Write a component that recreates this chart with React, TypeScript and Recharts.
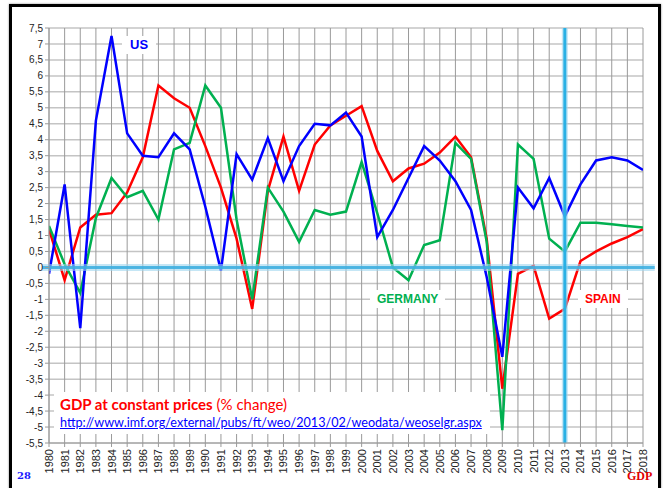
import React from "react";
import {
  LineChart,
  Line,
  XAxis,
  YAxis,
  CartesianGrid,
  ReferenceLine,
} from "recharts";

// años y series (crecimiento PIB %, FMI WEO oct-2013)
const years = [
  1980, 1981, 1982, 1983, 1984, 1985, 1986, 1987, 1988, 1989,
  1990, 1991, 1992, 1993, 1994, 1995, 1996, 1997, 1998, 1999,
  2000, 2001, 2002, 2003, 2004, 2005, 2006, 2007, 2008, 2009,
  2010, 2011, 2012, 2013, 2014, 2015, 2016, 2017, 2018,
];

const us = [
  -0.2, 2.6, -1.9, 4.6, 7.25, 4.2, 3.5, 3.45, 4.2, 3.7,
  1.9, -0.1, 3.55, 2.75, 4.05, 2.7, 3.8, 4.5, 4.45, 4.85,
  4.1, 0.95, 1.8, 2.8, 3.8, 3.35, 2.7, 1.8, -0.3, -2.8,
  2.5, 1.85, 2.8, 1.6, 2.6, 3.35, 3.45, 3.35, 3.05,
];

const spain = [
  1.2, -0.4, 1.25, 1.65, 1.7, 2.35, 3.45, 5.7, 5.3, 5.0,
  3.8, 2.5, 0.9, -1.3, 2.4, 4.1, 2.4, 3.85, 4.45, 4.75,
  5.05, 3.65, 2.7, 3.1, 3.25, 3.6, 4.1, 3.45, 0.9, -3.8,
  -0.2, 0.05, -1.6, -1.3, 0.2, 0.5, 0.75, 0.95, 1.2,
];

const germany = [
  1.3, 0.1, -0.8, 1.55, 2.8, 2.2, 2.4, 1.5, 3.7, 3.9,
  5.7, 5.0, 1.5, -1.0, 2.5, 1.75, 0.8, 1.8, 1.65, 1.75,
  3.3, 1.7, 0.0, -0.4, 0.7, 0.85, 3.9, 3.4, 0.8, -5.1,
  3.85, 3.4, 0.9, 0.5, 1.4, 1.4, 1.35, 1.3, 1.25,
];

const yTicks = Array.from({ length: 27 }, (_, i) => -5.5 + i * 0.5);

const data = years.map((year, i) => ({
  year,
  us: us[i],
  spain: spain[i],
  germany: germany[i],
}));

const FONT = "'Liberation Sans', Arial, sans-serif";

function YearTick(props: any) {
  const { x, y, payload } = props;
  return (
    <text
      x={x}
      y={y}
      transform={`rotate(-90 ${x} ${y})`}
      textAnchor="end"
      dominantBaseline="central"
      fontSize={11}
      fontFamily={FONT}
      fill="#222"
    >
      {payload.value}
    </text>
  );
}

export default function App() {
  return (
    <div
      style={{
        position: "absolute",
        left: 0,
        top: 0,
        width: 669,
        height: 488,
        background: "#fff",
        overflow: "hidden",
      }}
    >
      {/* marco negro */}
      <div
        style={{
          position: "absolute",
          left: 9,
          top: 4,
          width: 646,
          height: 500,
          border: "3px solid #000",
          boxShadow: "0 0 2px #888",
        }}
      />
      <div style={{ position: "absolute", left: 0, top: 0 }}>
        <LineChart
          width={669}
          height={488}
          data={data}
          margin={{ top: 28, right: 26, left: 5, bottom: 5 }}
        >
          <CartesianGrid vertical={false} stroke="#c4c4c4" strokeWidth={1.5} />
          <CartesianGrid horizontal={false} stroke="#9a9a9a" strokeWidth={1} />
          <XAxis
            dataKey="year"
            type="number"
            domain={[1980, 2018]}
            ticks={years}
            interval={0}
            height={40}
            tickSize={4}
            tickMargin={2}
            tick={<YearTick />}
            axisLine={{ stroke: "#9a9a9a" }}
            tickLine={{ stroke: "#9a9a9a" }}
            allowDataOverflow
          />
          <YAxis
            type="number"
            domain={[-5.5, 7.5]}
            ticks={yTicks}
            interval={0}
            width={44}
            tickSize={4}
            tickMargin={2}
            tickFormatter={(v: number) => String(v).replace(".", ",")}
            tick={{ fontSize: 10, fontFamily: FONT, fill: "#222" }}
            axisLine={{ stroke: "#9a9a9a" }}
            tickLine={{ stroke: "#9a9a9a" }}
            allowDataOverflow
          />
          <Line
            dataKey="spain"
            stroke="#ff0000"
            strokeWidth={2.5}
            dot={false}
            isAnimationActive={false}
            strokeLinejoin="miter"
          />
          <Line
            dataKey="germany"
            stroke="#00b050"
            strokeWidth={2.5}
            dot={false}
            isAnimationActive={false}
            strokeLinejoin="miter"
          />
          <Line
            dataKey="us"
            stroke="#0000ff"
            strokeWidth={2.5}
            dot={false}
            isAnimationActive={false}
            strokeLinejoin="miter"
          />
          {/* línea del cero con halo */}
          <ReferenceLine
            segment={[{ x: 1979.55, y: 0 }, { x: 2018.75, y: 0 }]}
            ifOverflow="visible"
            stroke="#9fd6ee"
            strokeWidth={7}
            strokeOpacity={0.6}
          />
          <ReferenceLine
            segment={[{ x: 1979.55, y: 0 }, { x: 2018.75, y: 0 }]}
            ifOverflow="visible"
            stroke="#3aaee0"
            strokeWidth={3}
            strokeOpacity={0.85}
          />
          {/* año 2013 */}
          <ReferenceLine
            x={2013}
            stroke="#9fd6ee"
            strokeWidth={6}
            strokeOpacity={0.6}
          />
          <ReferenceLine x={2013} stroke="#2ab0e4" strokeWidth={3} />
        </LineChart>
      </div>

      {/* etiquetas de series */}
      <div
        style={{
          position: "absolute",
          left: 122,
          top: 36,
          padding: "0 8px",
          background: "#fff",
          color: "#0000ff",
          fontFamily: FONT,
          fontWeight: "bold",
          fontSize: 13,
          lineHeight: "18px",
        }}
      >
        US
      </div>
      <div
        style={{
          position: "absolute",
          left: 370,
          top: 290,
          padding: "0 7px",
          background: "#fff",
          color: "#00b050",
          fontFamily: FONT,
          fontWeight: "bold",
          fontSize: 12,
          lineHeight: "18px",
        }}
      >
        GERMANY
      </div>
      <div
        style={{
          position: "absolute",
          left: 578,
          top: 290,
          padding: "0 7px",
          background: "#fff",
          color: "#ff0000",
          fontFamily: FONT,
          fontWeight: "bold",
          fontSize: 12,
          lineHeight: "18px",
        }}
      >
        SPAIN
      </div>

      {/* título y fuente */}
      <div
        style={{
          position: "absolute",
          left: 54,
          top: 392,
          width: 436,
          height: 42,
          background: "#fff",
          fontFamily: "Lato, 'Liberation Sans', sans-serif",
        }}
      >
        <div
          style={{
            position: "absolute",
            left: 6,
            top: 3,
            color: "#ff0000",
            fontSize: 15,
            whiteSpace: "nowrap",
          }}
        >
          <b>GDP at constant prices</b> (% change)
        </div>
        <div
          style={{
            position: "absolute",
            left: 6,
            top: 23,
            color: "#0000ff",
            fontSize: 12.6,
            textDecoration: "underline",
            whiteSpace: "nowrap",
          }}
        >
          http://www.imf.org/external/pubs/ft/weo/2013/02/weodata/weoselgr.aspx
        </div>
      </div>

      <div
        style={{
          position: "absolute",
          left: 17,
          top: 470,
          color: "#1a1aff",
          fontFamily: "'DejaVu Serif', serif",
          fontWeight: "bold",
          fontSize: 10,
        }}
      >
        28
      </div>
      <div
        style={{
          position: "absolute",
          left: 627,
          top: 469,
          color: "#e00000",
          fontFamily: "'Liberation Serif', serif",
          fontWeight: "bold",
          fontSize: 12,
        }}
      >
        GDP
      </div>
    </div>
  );
}
